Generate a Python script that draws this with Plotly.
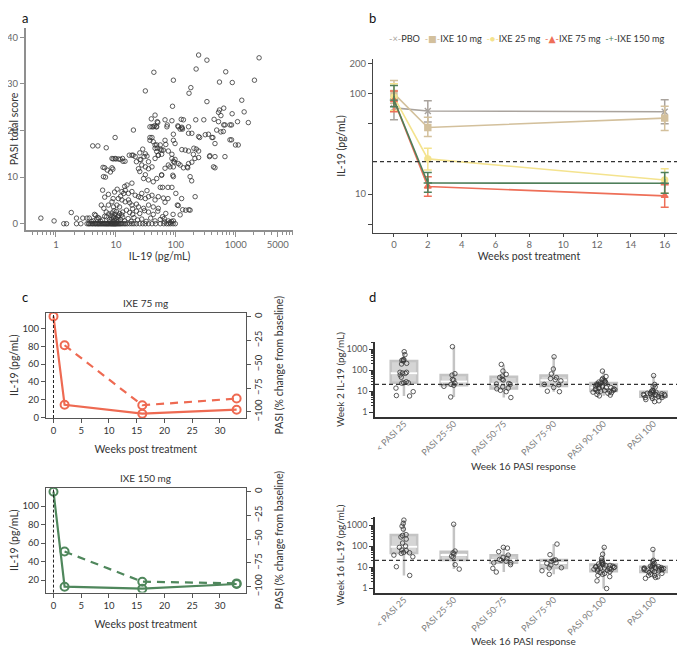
import numpy as np
import plotly.graph_objects as go

# The page body has an 8px margin, so the figure is sized to fill the rest of the 685x646 window
OFF = 8
W, H = 685 - OFF, 646 - OFF
def px(x): return (x - OFF) / W
def py(y): return 1 - (y - OFF) / H

FONT = "Lato"
GRAY_TXT = "#666666"
DARK_TXT = "#333333"

# ---------------- Panel a data (IL-19 pg/mL, PASI total score) ----------------
il19_pasi_zero = [1.35, 1.5, 2.2, 2.6, 3.3, 3.5, 3.6, 3.8, 4.0, 4.1, 4.3, 4.5, 4.6, 4.8, 5.0, 5.1, 5.3,
                  5.5, 5.7, 5.9, 6.1, 6.3, 6.5, 6.7, 6.9, 7.1, 7.3, 7.5, 7.7, 8.0, 8.2, 8.4, 8.6, 8.8,
                  9.0, 9.2, 9.4, 9.6, 9.8, 10.0, 10.3, 10.6, 11.0, 11.4, 11.8, 12.3, 13.0, 13.8, 14.5,
                  15.5, 17, 18.5, 20, 22, 25, 28, 31, 35, 40, 46, 55, 63, 70, 76, 82, 90, 98]
low_pairs = [(0.56, 1.2), (0.93, 0.6), (1.8, 2.4), (2.2, 1.2), (2.8, 1.2), (3.3, 1.2), (3.6, 1.2), (4.2, 0.6),
             (4.4, 2.0), (4.8, 1.0), (5.0, 1.3), (5.2, 1.2), (6.0, 0.8), (6.9, 2.5), (7.0, 1.5), (7.6, 2.1),
             (8.0, 0.5), (8.5, 1.0), (8.6, 2.3), (9.0, 1.6), (9.3, 2.8), (9.5, 0.7), (10.0, 1.2), (10.2, 2.6),
             (10.5, 0.4), (11.0, 1.8), (11.5, 2.2), (12.0, 0.9), (13.0, 1.4), (13.0, 2.5), (14.0, 0.6),
             (15.0, 2.9), (16.0, 1.1), (17.0, 2.4), (18.0, 0.5), (19.0, 2.0), (20.0, 1.3), (22.0, 2.7),
             (23.0, 0.8), (25.0, 2.2), (27.0, 1.0), (30.0, 2.8), (32.0, 0.5), (35.0, 2.5), (38.0, 1.2),
             (42.0, 2.0), (45.0, 0.6), (50.0, 2.7), (55.0, 0.9), (60.0, 1.5), (64.0, 1.1), (65.0, 0.4),
             (68.0, 2.2), (75.0, 0.6), (80.0, 0.3), (85.0, 0.5), (91.0, 0.6), (90.0, 2.0), (118.0, 1.9),
             (146.0, 2.9), (173.0, 2.9), (7.8, 0.9), (8.3, 1.8), (8.9, 0.4), (9.2, 1.3), (9.7, 2.0),
             (10.4, 0.9), (10.8, 1.5), (11.2, 0.6), (12.5, 1.9), (6.5, 1.6), (5.6, 0.5), (4.6, 1.8), (3.9, 0.5)]
midlow_pairs = [(5.7, 4.0), (6.3, 3.3), (6.5, 5.7), (6.0, 7.2), (6.2, 10.1), (7.5, 6.3), (7.5, 4.0), (8.6, 4.7),
                (9.0, 5.4), (9.1, 3.6), (9.5, 6.8), (10.4, 4.0), (10.5, 7.4), (11.0, 5.4), (11.5, 3.6),
                (12.0, 5.9), (12.6, 5.1), (12.6, 6.9), (13.5, 6.5), (14.0, 8.0), (14.3, 4.7), (14.3, 7.2),
                (15.3, 8.3), (16.2, 5.1), (16.2, 6.5), (17.0, 4.5), (18.5, 8.7), (18.5, 6.9), (18.5, 4.0),
                (19.0, 3.2), (21.0, 6.1), (22.0, 4.2), (23.8, 5.8), (23.8, 3.6), (26.0, 5.6), (27.0, 6.5),
                (29.0, 9.7), (29.0, 3.3), (31.0, 5.4), (33.0, 7.1), (35.0, 9.4), (35.0, 5.8), (35.0, 4.0),
                (40.0, 6.1), (42.0, 9.0), (42.0, 3.6), (45.0, 5.1), (48.0, 9.7), (51.0, 3.3), (51.0, 5.8),
                (55.0, 7.8), (60.0, 7.8), (62.0, 5.5), (66.0, 4.6), (74.0, 7.8), (74.0, 5.4), (86.0, 7.8),
                (100.0, 6.5), (106.0, 4.0), (110.0, 3.9), (125.0, 5.4), (130.0, 3.0), (165.0, 3.0),
                (184.0, 9.2), (210.0, 5.8)]
mid_pairs = [(4.1, 16.7), (5.0, 16.7), (6.9, 16.3), (6.1, 12.1), (6.7, 10.0), (6.5, 12.0), (7.2, 11.5),
             (8.6, 12.0), (8.1, 11.1), (8.9, 11.7), (9.0, 13.9), (10.0, 13.9), (11.0, 13.9), (9.7, 18.5),
             (8.6, 14.0), (9.7, 14.0), (11.8, 13.8), (12.9, 14.0), (13.1, 13.4), (14.2, 13.4), (16.7, 14.7),
             (18.5, 14.7), (19.4, 14.7), (21.0, 14.4), (22.0, 13.3), (25.3, 13.8), (25.0, 15.2), (28.0, 16.0),
             (29.5, 14.4), (26.0, 13.7), (31.0, 15.0), (33.0, 14.5), (35.0, 13.3), (23.8, 11.8), (27.0, 12.6),
             (31.0, 12.2), (35.0, 11.8), (40.0, 12.2), (25.0, 11.2), (31.0, 10.5), (37.0, 18.5), (40.0, 18.5),
             (42.0, 17.6), (37.0, 17.9), (45.0, 16.2), (48.0, 15.5), (51.0, 14.7), (45.0, 16.9), (45.0, 14.0),
             (48.0, 16.9), (49.0, 16.2), (55.0, 16.0), (55.0, 16.9), (58.0, 15.8), (62.0, 15.8), (66.0, 17.9),
             (68.0, 17.0), (51.0, 14.7), (58.0, 14.9), (75.0, 15.6), (86.0, 14.9), (86.0, 14.0), (91.0, 13.4),
             (95.0, 13.2), (97.0, 13.8), (91.0, 17.9), (97.0, 17.2), (91.0, 19.2), (126.0, 15.9), (144.0, 15.8),
             (163.0, 15.6), (196.0, 14.9), (208.0, 14.0), (240.0, 14.2), (200.0, 16.2), (220.0, 16.0),
             (240.0, 15.6), (370.0, 14.6), (365.0, 14.4), (450.0, 14.4), (660.0, 14.4), (425.0, 12.2),
             (450.0, 12.0), (163.0, 12.9), (185.0, 13.2), (134.0, 12.0), (158.0, 12.0), (155.0, 12.2),
             (110.0, 12.9), (118.0, 12.6), (75.0, 12.6), (80.0, 12.2), (91.0, 12.2), (66.0, 11.9), (58.0, 10.5),
             (58.0, 10.4), (91.0, 10.1), (89.0, 10.4), (173.0, 10.1), (118.0, 20.3), (129.0, 20.3),
             (163.0, 19.4), (185.0, 19.4), (240.0, 18.7), (250.0, 18.5), (350.0, 19.2), (400.0, 18.5),
             (310.0, 19.1), (415.0, 18.5), (450.0, 17.2), (850.0, 18.0), (990.0, 16.9), (1100.0, 16.9),
             (800.0, 18.0), (480.0, 20.1), (620.0, 19.8), (565.0, 19.7), (19.6, 20.1)]
high_pairs = [(31.0, 28.5), (43.0, 32.5), (45.0, 23.3), (39.0, 22.5), (49.0, 21.9), (40.0, 20.8), (44.0, 21.0),
              (37.0, 20.8), (42.0, 20.8), (48.0, 20.8), (71.0, 20.8), (110.0, 20.8), (126.0, 20.5),
              (163.0, 20.8), (47.0, 20.8), (72.0, 21.2), (50.0, 21.7), (66.0, 22.3), (86.0, 22.1),
              (134.0, 22.3), (123.0, 22.4), (108.0, 21.0), (126.0, 20.7), (215.0, 22.3), (293.0, 22.3),
              (435.0, 22.4), (515.0, 21.9), (660.0, 21.2), (850.0, 21.2), (630.0, 21.2), (800.0, 21.2),
              (1070.0, 21.9), (1620.0, 21.7), (870.0, 23.6), (565.0, 23.2), (515.0, 23.9), (535.0, 24.4),
              (630.0, 24.8), (1380.0, 24.0), (88.0, 25.2), (1260.0, 26.5), (330.0, 26.2), (166.0, 28.0),
              (178.0, 29.2), (91.0, 30.8), (535.0, 30.4), (875.0, 30.3), (2050.0, 30.8), (680.0, 32.6),
              (218.0, 33.2), (240.0, 36.2), (330.0, 35.1), (2450.0, 35.6)]

pairs_nonzero = low_pairs + midlow_pairs + mid_pairs + high_pairs
il19_a = il19_pasi_zero + [p[0] for p in pairs_nonzero]
pasi_a = [0.0 for _ in il19_pasi_zero] + [p[1] for p in pairs_nonzero]

# ---------------- Panel b data ----------------
weeks_b = [0, 2, 16]
groups_b = ["PBO", "IXE 10 mg", "IXE 25 mg", "IXE 75 mg", "IXE 150 mg"]
mean_b = {"PBO": [72, 67, 66], "IXE 10 mg": [100, 46, 57], "IXE 25 mg": [92, 22.4, 13.8],
          "IXE 75 mg": [86, 11.9, 9.6], "IXE 150 mg": [86, 12.9, 12.8]}
upper_b = {"PBO": [89, 85, 87], "IXE 10 mg": [135, 58, 75], "IXE 25 mg": [125, 28.5, 17.9],
           "IXE 75 mg": [106, 14.9, 12.4], "IXE 150 mg": [120, 16.4, 16.4]}
lower_b = {"PBO": [55, 52, 50], "IXE 10 mg": [80, 37.5, 43], "IXE 25 mg": [68, 17.4, 10.2],
           "IXE 75 mg": [66, 9.5, 7.4], "IXE 150 mg": [74, 10.4, 10.2]}
colors_b = {"PBO": "#a9a39d", "IXE 10 mg": "#d3c09c", "IXE 25 mg": "#f4e38e",
            "IXE 75 mg": "#ee6f58", "IXE 150 mg": "#4f7f5a"}
symbols_b = {"PBO": "x-thin-open", "IXE 10 mg": "square", "IXE 25 mg": "circle",
             "IXE 75 mg": "triangle-up", "IXE 150 mg": "cross-thin-open"}
legend_glyphs_b = {"PBO": "×", "IXE 10 mg": "■", "IXE 25 mg": "●", "IXE 75 mg": "▲", "IXE 150 mg": "+"}
il19_threshold = 21

# ---------------- Panel c data ----------------
weeks_c = [0, 2, 16, 33]
il19_75 = [114, 14, 4, 8.5]
pasi_weeks_c = [2, 16, 33]
pasi_75 = [-30, -93, -86]
il19_150 = [115.5, 12.8, 10.6, 15.7]
pasi_150 = [-63, -94.7, -96.5]
red_c = "#ee6a52"
green_c = "#4f875c"

# ---------------- Panel d data ----------------
categories_d = ["< PASI 25", "PASI 25-50", "PASI 50-75", "PASI 75-90", "PASI 90-100", "PASI 100"]
week2_d = {
    "< PASI 25": [750, 540, 313, 271, 313, 291, 210, 195, 79, 70, 79, 73, 59, 46, 25, 28, 25, 24, 14, 9.5, 5.9, 6.2],
    "PASI 25-50": [1300, 68, 58, 36, 34, 24, 21, 19, 17, 5.3],
    "PASI 50-75": [187, 91, 63, 52, 45, 37, 34, 23, 22, 21, 16, 14, 13, 11, 9.5, 5],
    "PASI 75-90": [430, 113, 66, 44, 40, 35, 31, 21, 20, 15, 10, 9.5],
    "PASI 90-100": [90, 50, 40, 35, 33, 30, 28, 27, 25, 24, 22, 21, 20, 19, 18, 17, 16, 15, 15, 14, 13, 13,
                    12, 12, 11, 11, 10, 10, 9.5, 9, 8.5, 8, 7, 6.5, 6],
    "PASI 100": [55, 21, 17, 16, 11, 10, 10, 9, 8.5, 8, 8, 7.5, 7.5, 7, 7, 7, 6.5, 6.5, 6, 6, 5.5, 5.5, 5, 5,
                 4.5, 4, 3.5, 3.2],
}
week16_d = {
    "< PASI 25": [1730, 1200, 890, 645, 350, 320, 270, 215, 140, 100, 87, 65, 62, 50, 48, 45, 37, 31, 10.4, 4],
    "PASI 25-50": [1100, 58, 48, 42, 33, 30, 13, 8],
    "PASI 50-75": [87, 80, 54, 37, 29, 26, 23, 21, 19, 16, 16, 13, 8.7, 5.8],
    "PASI 75-90": [125, 39, 22, 21, 19, 16, 15, 12.5, 9.3, 9, 6.7, 4.5],
    "PASI 90-100": [87, 41, 26, 21, 18, 16, 15, 14, 13, 12, 12, 11, 11, 10.5, 10, 10, 9.5, 9, 9, 8.5, 8, 8,
                    7.5, 7, 6.5, 6, 5.5, 5, 4.5, 4, 3.5, 2.2, 0.95],
    "PASI 100": [69, 21, 18, 15, 14, 12, 11, 10.5, 10, 10, 9.5, 9, 9, 8.5, 8.5, 8, 8, 8, 7.5, 7.5, 7, 7, 6.5,
                 6, 5.5, 5, 4.5, 4, 4, 3.4, 3.2, 2.9],
}

fig = go.Figure()

# ---- a ----
fig.add_trace(go.Scatter(x=il19_a, y=pasi_a, mode="markers", xaxis="x", yaxis="y", showlegend=False,
                         marker=dict(symbol="circle-open", size=4.5, color="#333333",
                                     line=dict(width=0.8, color="#333333"))))

# ---- b ----
for g in groups_b:
    m = np.array(mean_b[g], dtype=float)
    up = np.array(upper_b[g], dtype=float) - m
    lo = m - np.array(lower_b[g], dtype=float)
    fig.add_trace(go.Scatter(
        x=weeks_b, y=mean_b[g], mode="lines+markers", name=g, xaxis="x2", yaxis="y2", showlegend=False,
        line=dict(color=colors_b[g], width=1.6),
        marker=dict(symbol=symbols_b[g], size=6, color=colors_b[g], line=dict(width=1.4, color=colors_b[g])),
        error_y=dict(type="data", symmetric=False, array=list(up), arrayminus=list(lo),
                     color=colors_b[g], thickness=1.5, width=4)))

# ---- c ----
def add_c(il, pasi, color, xa, ya, ya2):
    fig.add_trace(go.Scatter(x=weeks_c, y=il, mode="lines+markers", xaxis=xa, yaxis=ya, showlegend=False,
                             line=dict(color=color, width=2.2),
                             marker=dict(symbol="circle-open", size=8, color=color, line=dict(width=2, color=color))))
    fig.add_trace(go.Scatter(x=pasi_weeks_c, y=pasi, mode="lines+markers", xaxis=xa, yaxis=ya2, showlegend=False,
                             line=dict(color=color, width=2.2, dash="8px,6px"),
                             marker=dict(symbol="circle-open", size=8, color=color, line=dict(width=2, color=color))))

add_c(il19_75, pasi_75, red_c, "x3", "y3", "y4")
add_c(il19_150, pasi_150, green_c, "x5", "y5", "y6")

# ---- d ----
def add_d(data, xa, ya):
    xs, ys = [], []
    for c in categories_d:
        xs += [c] * len(data[c])
        ys += data[c]
    fig.add_trace(go.Box(x=xs, y=ys, xaxis=xa, yaxis=ya, boxpoints=False, showlegend=False, width=0.53,
                         fillcolor="#d5d5d5", line=dict(color="#c4c4c4", width=2.5), whiskerwidth=0))
    med = [float(np.median(data[c])) for c in categories_d]
    fig.add_trace(go.Box(x=categories_d, q1=med, median=med, q3=med, lowerfence=med, upperfence=med,
                         xaxis=xa, yaxis=ya, showlegend=False, width=0.53, whiskerwidth=0,
                         fillcolor="rgba(0,0,0,0)", line=dict(color="white", width=2)))
    fig.add_trace(go.Box(x=xs, y=ys, xaxis=xa, yaxis=ya, boxpoints="all", jitter=0.9, pointpos=0,
                         showlegend=False, width=0.53, fillcolor="rgba(0,0,0,0)",
                         line=dict(color="rgba(0,0,0,0)", width=0),
                         marker=dict(symbol="circle-open", size=4.5, color="#333333",
                                     line=dict(width=0.8, color="#333333"))))

add_d(week2_d, "x7", "y7")
add_d(week16_d, "x8", "y8")

# ---------------- Layout ----------------
tickf = dict(family=FONT, size=9.5, color=GRAY_TXT)
titf = dict(family=FONT, size=10.5, color=DARK_TXT)
ctick = dict(family=FONT, size=9.5, color=DARK_TXT)

def log_minor(decades, skip=()):
    vals = []
    for d in decades:
        for k in range(2, 10):
            v = k * d
            if v not in skip:
                vals.append(v)
    return vals

layout = dict(
    template="none",
    width=W, height=H, margin=dict(l=0, r=0, t=0, b=0, autoexpand=False),
    paper_bgcolor="white", plot_bgcolor="white", boxmode="overlay",
    font=dict(family=FONT, size=10, color=DARK_TXT),
    showlegend=False,
    # a
    xaxis=dict(domain=[px(26), px(293)], anchor="y", type="log", range=[-0.5, 3.955],
               showline=True, linecolor="#8f8f8f", linewidth=2, ticks="outside", ticklen=5,
               tickcolor="#8f8f8f", tickwidth=1.2, tickvals=[1, 10, 100, 1000, 5000],
               ticktext=["1", "10", "100", "1000", "5000"], tickfont=tickf,
               minor=dict(tickmode="array", tickvals=[0.4, 0.5, 0.6, 0.7, 0.8, 0.9] + log_minor([1, 10, 100, 1000], skip=(5000,)),
                          ticks="outside", ticklen=3, tickcolor="#8f8f8f", showgrid=False),
               showgrid=False, zeroline=False, automargin=False,
               title=dict(text="IL-19 (pg/mL)", font=titf, standoff=0)),
    yaxis=dict(domain=[py(230), py(28)], anchor="x", range=[-1.35, 42], tickvals=[0, 10, 20, 30, 40],
               showline=True, linecolor="#8f8f8f", linewidth=2, ticks="outside", ticklen=4,
               tickcolor="#8f8f8f", tickfont=tickf, showgrid=False, zeroline=False, automargin=False,
               title=dict(text="PASI total score", font=titf, standoff=5)),
    # b
    xaxis2=dict(domain=[px(373), 1.0], anchor="y2", range=[-1.24, 17.2], tickvals=list(range(0, 17, 2)),
                showline=True, linecolor="#444444", linewidth=1, ticks="outside", ticklen=3,
                tickcolor="#444444", tickfont=tickf, showgrid=False, zeroline=False, automargin=False,
                title=dict(text="Weeks post treatment", font=titf, standoff=0)),
    yaxis2=dict(domain=[py(233), py(59)], anchor="x2", type="log", range=[np.log10(4.1), 2.344],
                tickvals=[10, 100, 200], ticktext=["10", "100", "200"],
                minor=dict(tickmode="array", tickvals=[5, 50], ticks="outside", ticklen=4,
                           tickcolor="#444444", showgrid=False),
                showline=True, linecolor="#444444", linewidth=1, ticks="outside", ticklen=4,
                tickcolor="#444444", tickfont=tickf, showgrid=False, zeroline=False, automargin=False,
                title=dict(text="IL-19 (pg/mL)", font=titf, standoff=1)),
    # c top
    xaxis3=dict(domain=[px(46), px(245.5)], anchor="y3", range=[-1.35, 34.6], tickvals=[0, 5, 10, 15, 20, 25, 30],
                showline=True, mirror=True, linecolor="#555555", linewidth=1, ticks="outside", ticklen=4,
                tickcolor="#555555", tickfont=ctick, showgrid=False, zeroline=False, automargin=False,
                title=dict(text="Weeks post treatment", font=titf, standoff=10)),
    yaxis3=dict(domain=[py(418), py(312.5)], anchor="x3", range=[-0.9, 118.4], tickvals=[0, 20, 40, 60, 80, 100],
                showline=True, linecolor="#555555", linewidth=1, ticks="outside", ticklen=4,
                tickcolor="#555555", tickfont=ctick, showgrid=False, zeroline=False, automargin=False,
                title=dict(text="IL-19 (pg/mL)", font=titf, standoff=4)),
    yaxis4=dict(overlaying="y3", side="right", anchor="x3", range=[-106.4, 4.4],
                tickvals=[0, -25, -50, -75, -100], tickangle=-90,
                showline=True, linecolor="#555555", linewidth=1, ticks="outside", ticklen=4,
                tickcolor="#555555", tickfont=ctick, showgrid=False, zeroline=False, automargin=False,
                title=dict(text="PASI (% change from baseline)", font=titf, standoff=12)),
    # c bottom
    xaxis5=dict(domain=[px(46), px(245.5)], anchor="y5", range=[-1.35, 34.6], tickvals=[0, 5, 10, 15, 20, 25, 30],
                showline=True, mirror=True, linecolor="#555555", linewidth=1, ticks="outside", ticklen=4,
                tickcolor="#555555", tickfont=ctick, showgrid=False, zeroline=False, automargin=False,
                title=dict(text="Weeks post treatment", font=titf, standoff=10)),
    yaxis5=dict(domain=[py(592.6), py(487.8)], anchor="x5", range=[6.4, 119.7], tickvals=[20, 40, 60, 80, 100],
                showline=True, linecolor="#555555", linewidth=1, ticks="outside", ticklen=4,
                tickcolor="#555555", tickfont=ctick, showgrid=False, zeroline=False, automargin=False,
                title=dict(text="IL-19 (pg/mL)", font=titf, standoff=4)),
    yaxis6=dict(overlaying="y5", side="right", anchor="x5", range=[-106.2, 4.1],
                tickvals=[0, -25, -50, -75, -100], tickangle=-90,
                showline=True, linecolor="#555555", linewidth=1, ticks="outside", ticklen=4,
                tickcolor="#555555", tickfont=ctick, showgrid=False, zeroline=False, automargin=False,
                title=dict(text="PASI (% change from baseline)", font=titf, standoff=12)),
)

d_minor = dict(tickmode="array", tickvals=log_minor([1, 10, 100]) + [2000], ticks="outside", ticklen=2,
               tickcolor="#333333", showgrid=False)
for xa, ya, ydom, yr, ytitle in [("xaxis7", "yaxis7", [py(417.3), py(341.7)], [-0.24, 3.35], "Week 2 IL-19 (pg/mL)"),
                                 ("xaxis8", "yaxis8", [py(593.3), py(516.7)], [-0.25, 3.4], "Week 16 IL-19 (pg/mL)")]:
    layout[xa] = dict(domain=[px(375), 1.0], anchor=ya.replace("axis", ""), type="category",
                      categoryorder="array", categoryarray=categories_d, range=[-0.58, 5.63],
                      showline=True, linecolor="#333333", linewidth=1.5, ticks="", tickangle=-45,
                      ticklabelstandoff=-4,
                      tickfont=dict(family=FONT, size=9, color="#808080"), showgrid=False, zeroline=False,
                      automargin=False)
    layout[ya] = dict(domain=ydom, anchor=xa.replace("axis", ""), type="log", range=yr,
                      tickvals=[1, 10, 100, 1000], ticktext=["1", "10", "100", "1000"], minor=d_minor,
                      showline=True, linecolor="#333333", linewidth=1.5, ticks="outside", ticklen=4,
                      tickcolor="#333333", tickfont=dict(family=FONT, size=9, color="#555555"),
                      showgrid=False, zeroline=False, automargin=False,
                      title=dict(text=ytitle, font=dict(family=FONT, size=10, color=DARK_TXT), standoff=0))

fig.update_layout(**layout)

# Reference lines
dash_line = dict(color="#333333", width=1.2, dash="4px,3px")
fig.add_shape(type="line", xref="x2 domain", x0=0, x1=1, yref="y2", y0=il19_threshold, y1=il19_threshold, line=dash_line)
fig.add_shape(type="line", xref="x7 domain", x0=0, x1=1, yref="y7", y0=il19_threshold, y1=il19_threshold, line=dash_line)
fig.add_shape(type="line", xref="x8 domain", x0=0, x1=1, yref="y8", y0=il19_threshold, y1=il19_threshold, line=dash_line)
vline = dict(color="#222222", width=1, dash="3px,2px")
fig.add_shape(type="line", xref="x3", x0=0, x1=0, yref="y3 domain", y0=0, y1=1, line=vline)
fig.add_shape(type="line", xref="x5", x0=0, x1=0, yref="y5 domain", y0=0, y1=1, line=vline)

# Legend for panel b (compact key row, as in the reference)
legend_parts = []
for g in groups_b:
    legend_parts.append(f'<span style="color:{colors_b[g]}">-{legend_glyphs_b[g]}-</span>{g}')
fig.add_annotation(text="  ".join(legend_parts), xref="paper", yref="paper", x=px(526.5), y=py(38),
                   showarrow=False, xanchor="center", yanchor="middle",
                   font=dict(family="Lato, 'DejaVu Sans'", size=9.2, color=DARK_TXT))

# Titles, x titles of panel d, and panel letters
for text, x, y in [("IXE 75 mg", 145.7, 303.3), ("IXE 150 mg", 145.7, 478.3),
                   ("Week 16 PASI response", 523, 466), ("Week 16 PASI response", 523, 641)]:
    fig.add_annotation(text=text, xref="paper", yref="paper", x=px(x), y=py(y), showarrow=False,
                       xanchor="center", yanchor="middle", font=dict(family=FONT, size=10, color=DARK_TXT))
for letter, x, y in [("a", 25, 8), ("b", 372, 8), ("c", 25, 287), ("d", 372, 287)]:
    fig.add_annotation(text=letter, xref="paper", yref="paper", x=px(x), y=py(y), showarrow=False,
                       xanchor="center", yanchor="top", font=dict(family=FONT, size=13, color="#111111"))

fig.write_html("out.html")
